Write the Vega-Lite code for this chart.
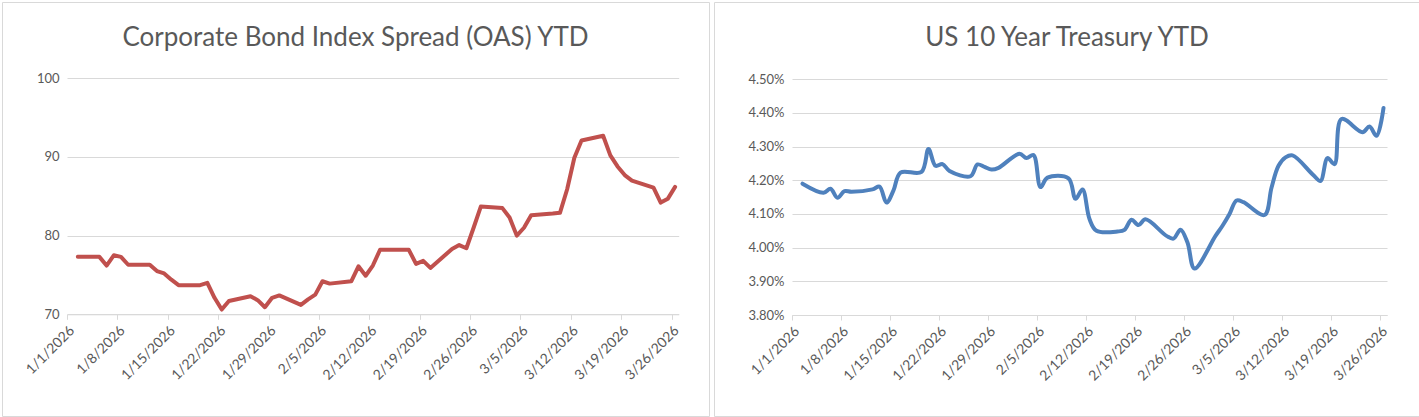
{
  "$schema": "https://vega.github.io/schema/vega-lite/v6.json",
  "padding": {"left": 1, "top": 1, "right": 1, "bottom": 1},
  "background": "white",
  "spacing": 3,
  "config": {
    "view": {"stroke": "#d9d9d9", "strokeWidth": 1},
    "font": "Lato",
    "axis": {
      "labelFont": "Lato",
      "labelFontSize": 13,
      "labelColor": "#595959",
      "gridColor": "#d9d9d9",
      "gridWidth": 1,
      "domainColor": "#d9d9d9",
      "tickColor": "#d9d9d9",
      "title": null
    },
    "title": {"font": "Lato", "fontSize": 26, "fontWeight": "normal", "color": "#595959"}
  },
  "hconcat": [
    {
      "width": 707,
      "height": 414,
      "title": {"text": "Corporate Bond Index Spread (OAS) YTD", "anchor": "middle", "frame": "group", "offset": -70, "baseline": "alphabetic"},
      "data": {"values": [
        {"date": "2026-01-02T12:00:00", "oas": 77.3},
        {"date": "2026-01-05T12:00:00", "oas": 77.3},
        {"date": "2026-01-06T12:00:00", "oas": 76.2},
        {"date": "2026-01-07T12:00:00", "oas": 77.5},
        {"date": "2026-01-08T12:00:00", "oas": 77.3},
        {"date": "2026-01-09T12:00:00", "oas": 76.3},
        {"date": "2026-01-12T12:00:00", "oas": 76.3},
        {"date": "2026-01-13T12:00:00", "oas": 75.5},
        {"date": "2026-01-14T12:00:00", "oas": 75.2},
        {"date": "2026-01-15T12:00:00", "oas": 74.4},
        {"date": "2026-01-16T12:00:00", "oas": 73.7},
        {"date": "2026-01-19T12:00:00", "oas": 73.7},
        {"date": "2026-01-20T12:00:00", "oas": 74.0},
        {"date": "2026-01-21T12:00:00", "oas": 72.1},
        {"date": "2026-01-22T12:00:00", "oas": 70.6},
        {"date": "2026-01-23T12:00:00", "oas": 71.7},
        {"date": "2026-01-26T12:00:00", "oas": 72.3},
        {"date": "2026-01-27T12:00:00", "oas": 71.8},
        {"date": "2026-01-28T12:00:00", "oas": 70.9},
        {"date": "2026-01-29T12:00:00", "oas": 72.1},
        {"date": "2026-01-30T12:00:00", "oas": 72.4},
        {"date": "2026-02-02T12:00:00", "oas": 71.2},
        {"date": "2026-02-03T12:00:00", "oas": 71.9},
        {"date": "2026-02-04T12:00:00", "oas": 72.5},
        {"date": "2026-02-05T12:00:00", "oas": 74.2},
        {"date": "2026-02-06T12:00:00", "oas": 73.9},
        {"date": "2026-02-09T12:00:00", "oas": 74.2},
        {"date": "2026-02-10T12:00:00", "oas": 76.1},
        {"date": "2026-02-11T12:00:00", "oas": 74.9},
        {"date": "2026-02-12T12:00:00", "oas": 76.2},
        {"date": "2026-02-13T12:00:00", "oas": 78.2},
        {"date": "2026-02-16T12:00:00", "oas": 78.2},
        {"date": "2026-02-17T12:00:00", "oas": 78.2},
        {"date": "2026-02-18T12:00:00", "oas": 76.4},
        {"date": "2026-02-19T12:00:00", "oas": 76.8},
        {"date": "2026-02-20T12:00:00", "oas": 75.9},
        {"date": "2026-02-23T12:00:00", "oas": 78.3},
        {"date": "2026-02-24T12:00:00", "oas": 78.8},
        {"date": "2026-02-25T12:00:00", "oas": 78.4},
        {"date": "2026-02-26T12:00:00", "oas": 81.0},
        {"date": "2026-02-27T12:00:00", "oas": 83.7},
        {"date": "2026-03-02T12:00:00", "oas": 83.5},
        {"date": "2026-03-03T12:00:00", "oas": 82.3},
        {"date": "2026-03-04T12:00:00", "oas": 80.0},
        {"date": "2026-03-05T12:00:00", "oas": 81.0},
        {"date": "2026-03-06T12:00:00", "oas": 82.6},
        {"date": "2026-03-09T12:00:00", "oas": 82.8},
        {"date": "2026-03-10T12:00:00", "oas": 82.9},
        {"date": "2026-03-11T12:00:00", "oas": 85.9},
        {"date": "2026-03-12T12:00:00", "oas": 89.9},
        {"date": "2026-03-13T12:00:00", "oas": 92.1},
        {"date": "2026-03-16T12:00:00", "oas": 92.7},
        {"date": "2026-03-17T12:00:00", "oas": 90.2},
        {"date": "2026-03-18T12:00:00", "oas": 88.8},
        {"date": "2026-03-19T12:00:00", "oas": 87.7},
        {"date": "2026-03-20T12:00:00", "oas": 87.0},
        {"date": "2026-03-23T12:00:00", "oas": 86.1},
        {"date": "2026-03-24T12:00:00", "oas": 84.2},
        {"date": "2026-03-25T12:00:00", "oas": 84.7},
        {"date": "2026-03-26T12:00:00", "oas": 86.2}
      ]},
      "mark": {"type": "line", "color": "#C0504D", "strokeWidth": 4, "strokeCap": "round", "strokeJoin": "round"},
      "encoding": {
        "x": {
          "field": "date", "type": "temporal",
          "scale": {"domain": [{"year": 2026, "month": 1, "date": 1}, {"year": 2026, "month": 3, "date": 27}], "range": [65, 676.7]},
          "axis": {
            "orient": "bottom", "offset": -101.7, "grid": false, "tickSize": 5,
            "values": [
              {"year": 2026, "month": 1, "date": 1}, {"year": 2026, "month": 1, "date": 8}, {"year": 2026, "month": 1, "date": 15},
              {"year": 2026, "month": 1, "date": 22}, {"year": 2026, "month": 1, "date": 29}, {"year": 2026, "month": 2, "date": 5},
              {"year": 2026, "month": 2, "date": 12}, {"year": 2026, "month": 2, "date": 19}, {"year": 2026, "month": 2, "date": 26},
              {"year": 2026, "month": 3, "date": 5}, {"year": 2026, "month": 3, "date": 12}, {"year": 2026, "month": 3, "date": 19},
              {"year": 2026, "month": 3, "date": 26}
            ],
            "format": "%-m/%-d/%Y", "labelAngle": -45, "labelFontSize": 14, "labelOverlap": false, "labelBound": false, "labelFlush": false, "labelPadding": 4
          }
        },
        "y": {
          "field": "oas", "type": "quantitative",
          "scale": {"domain": [70, 100], "range": [312.3, 76.3], "nice": false, "zero": false},
          "axis": {"offset": -65, "values": [70, 80, 90, 100], "domain": false, "ticks": false, "grid": true, "labelPadding": 8}
        }
      }
    },
    {
      "width": 706,
      "height": 414,
      "title": {"text": "US 10 Year Treasury YTD", "anchor": "middle", "frame": "group", "offset": -70, "baseline": "alphabetic"},
      "data": {"values": [
        {"date": "2026-01-02T12:00:00", "yield": 4.19},
        {"date": "2026-01-05T12:00:00", "yield": 4.163},
        {"date": "2026-01-06T12:00:00", "yield": 4.175},
        {"date": "2026-01-07T12:00:00", "yield": 4.148},
        {"date": "2026-01-08T12:00:00", "yield": 4.168},
        {"date": "2026-01-09T12:00:00", "yield": 4.166},
        {"date": "2026-01-12T12:00:00", "yield": 4.173},
        {"date": "2026-01-13T12:00:00", "yield": 4.181},
        {"date": "2026-01-14T12:00:00", "yield": 4.134},
        {"date": "2026-01-15T12:00:00", "yield": 4.17},
        {"date": "2026-01-16T12:00:00", "yield": 4.223},
        {"date": "2026-01-19T12:00:00", "yield": 4.225},
        {"date": "2026-01-20T12:00:00", "yield": 4.293},
        {"date": "2026-01-21T12:00:00", "yield": 4.243},
        {"date": "2026-01-22T12:00:00", "yield": 4.248},
        {"date": "2026-01-23T12:00:00", "yield": 4.228},
        {"date": "2026-01-26T12:00:00", "yield": 4.212},
        {"date": "2026-01-27T12:00:00", "yield": 4.247},
        {"date": "2026-01-28T12:00:00", "yield": 4.24},
        {"date": "2026-01-29T12:00:00", "yield": 4.232},
        {"date": "2026-01-30T12:00:00", "yield": 4.237},
        {"date": "2026-02-02T12:00:00", "yield": 4.279},
        {"date": "2026-02-03T12:00:00", "yield": 4.266},
        {"date": "2026-02-04T12:00:00", "yield": 4.275},
        {"date": "2026-02-05T12:00:00", "yield": 4.18},
        {"date": "2026-02-06T12:00:00", "yield": 4.208},
        {"date": "2026-02-09T12:00:00", "yield": 4.206},
        {"date": "2026-02-10T12:00:00", "yield": 4.145},
        {"date": "2026-02-11T12:00:00", "yield": 4.173},
        {"date": "2026-02-12T12:00:00", "yield": 4.085},
        {"date": "2026-02-13T12:00:00", "yield": 4.05},
        {"date": "2026-02-16T12:00:00", "yield": 4.048},
        {"date": "2026-02-17T12:00:00", "yield": 4.053},
        {"date": "2026-02-18T12:00:00", "yield": 4.083},
        {"date": "2026-02-19T12:00:00", "yield": 4.067},
        {"date": "2026-02-20T12:00:00", "yield": 4.084},
        {"date": "2026-02-23T12:00:00", "yield": 4.035},
        {"date": "2026-02-24T12:00:00", "yield": 4.027},
        {"date": "2026-02-25T12:00:00", "yield": 4.053},
        {"date": "2026-02-26T12:00:00", "yield": 4.015},
        {"date": "2026-02-27T12:00:00", "yield": 3.938},
        {"date": "2026-03-02T12:00:00", "yield": 4.035},
        {"date": "2026-03-03T12:00:00", "yield": 4.065},
        {"date": "2026-03-04T12:00:00", "yield": 4.1},
        {"date": "2026-03-05T12:00:00", "yield": 4.14},
        {"date": "2026-03-06T12:00:00", "yield": 4.135},
        {"date": "2026-03-09T12:00:00", "yield": 4.097},
        {"date": "2026-03-10T12:00:00", "yield": 4.178},
        {"date": "2026-03-11T12:00:00", "yield": 4.243},
        {"date": "2026-03-12T12:00:00", "yield": 4.268},
        {"date": "2026-03-13T12:00:00", "yield": 4.274},
        {"date": "2026-03-16T12:00:00", "yield": 4.215},
        {"date": "2026-03-17T12:00:00", "yield": 4.198},
        {"date": "2026-03-18T12:00:00", "yield": 4.266},
        {"date": "2026-03-19T12:00:00", "yield": 4.248},
        {"date": "2026-03-20T12:00:00", "yield": 4.382},
        {"date": "2026-03-23T12:00:00", "yield": 4.343},
        {"date": "2026-03-24T12:00:00", "yield": 4.36},
        {"date": "2026-03-25T12:00:00", "yield": 4.332},
        {"date": "2026-03-26T12:00:00", "yield": 4.415}
      ]},
      "mark": {"type": "line", "color": "#4F81BD", "strokeWidth": 4, "strokeCap": "round", "strokeJoin": "round", "interpolate": "catmull-rom"},
      "encoding": {
        "x": {
          "field": "date", "type": "temporal",
          "scale": {"domain": [{"year": 2026, "month": 1, "date": 1}, {"year": 2026, "month": 3, "date": 27}], "range": [78, 673]},
          "axis": {
            "orient": "bottom", "offset": -101, "grid": false, "tickSize": 5,
            "values": [
              {"year": 2026, "month": 1, "date": 1}, {"year": 2026, "month": 1, "date": 8}, {"year": 2026, "month": 1, "date": 15},
              {"year": 2026, "month": 1, "date": 22}, {"year": 2026, "month": 1, "date": 29}, {"year": 2026, "month": 2, "date": 5},
              {"year": 2026, "month": 2, "date": 12}, {"year": 2026, "month": 2, "date": 19}, {"year": 2026, "month": 2, "date": 26},
              {"year": 2026, "month": 3, "date": 5}, {"year": 2026, "month": 3, "date": 12}, {"year": 2026, "month": 3, "date": 19},
              {"year": 2026, "month": 3, "date": 26}
            ],
            "format": "%-m/%-d/%Y", "labelAngle": -45, "labelFontSize": 14, "labelOverlap": false, "labelBound": false, "labelFlush": false, "labelPadding": 4
          }
        },
        "y": {
          "field": "yield", "type": "quantitative",
          "scale": {"domain": [3.8, 4.5], "range": [313, 77.3], "nice": false, "zero": false},
          "axis": {"offset": -78, "values": [3.8, 3.9, 4.0, 4.1, 4.2, 4.3, 4.4, 4.5], "labelExpr": "format(datum.value, '.2f') + '%'", "domain": false, "ticks": false, "grid": true, "labelPadding": 8}
        }
      }
    }
  ]
}
